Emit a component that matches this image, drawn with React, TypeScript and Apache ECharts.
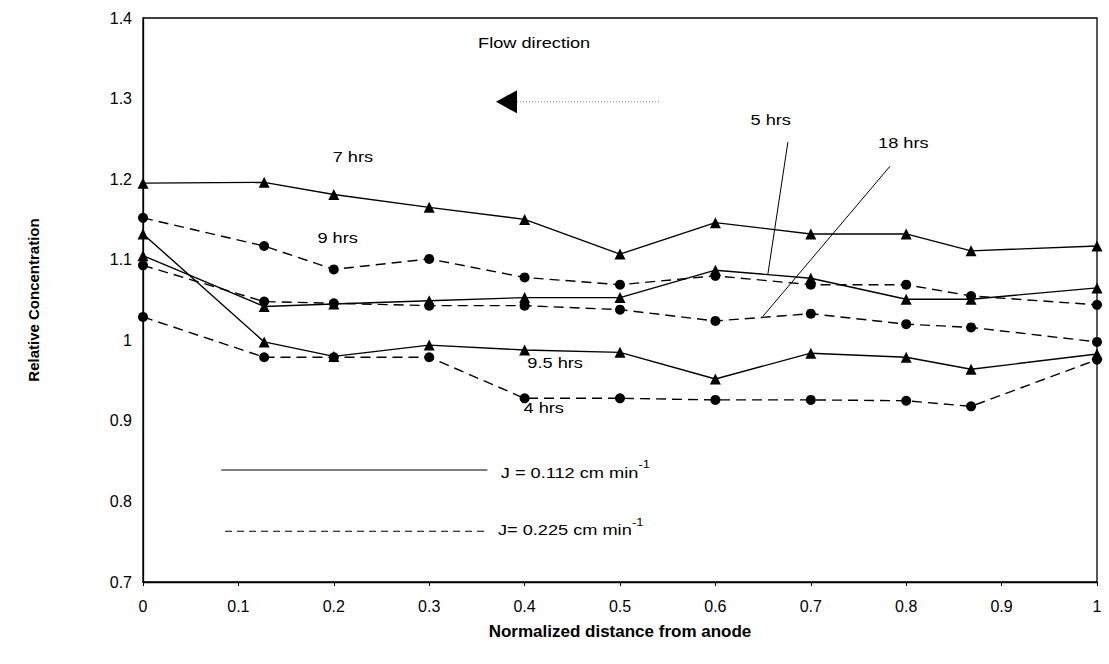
import { useEffect, useRef } from "react";
import * as echarts from "echarts";

// Normalized distance from anode (x positions of the sampling ports)
const xPositions = [0, 0.127, 0.2, 0.3, 0.4, 0.5, 0.6, 0.7, 0.8, 0.868, 1];

// J = 0.112 cm/min (solid, triangles)
const hrs7 = [1.195, 1.196, 1.181, 1.165, 1.15, 1.107, 1.146, 1.132, 1.132, 1.111, 1.117];
const hrs5 = [1.105, 1.042, 1.045, 1.049, 1.053, 1.053, 1.087, 1.077, 1.051, 1.051, 1.065];
const hrs9_5 = [1.132, 0.998, 0.98, 0.994, 0.988, 0.985, 0.952, 0.984, 0.979, 0.964, 0.983];

// J = 0.225 cm/min (dashed, circles)
const hrs9 = [1.152, 1.117, 1.088, 1.101, 1.078, 1.069, 1.08, 1.069, 1.069, 1.055, 1.044];
const hrs18 = [1.093, 1.048, 1.046, 1.043, 1.043, 1.038, 1.024, 1.033, 1.02, 1.016, 0.998];
const hrs4 = [1.029, 0.979, 0.979, 0.979, 0.928, 0.928, 0.926, 0.926, 0.925, 0.918, 0.976];

const seriesDefs = [
  { name: "7 hrs", values: hrs7, dashed: false },
  { name: "5 hrs", values: hrs5, dashed: false },
  { name: "9.5 hrs", values: hrs9_5, dashed: false },
  { name: "9 hrs", values: hrs9, dashed: true },
  { name: "18 hrs", values: hrs18, dashed: true },
  { name: "4 hrs", values: hrs4, dashed: true },
];

// Annotation labels, in data coordinates
const labelTexts = ["7 hrs", "9 hrs", "5 hrs", "18 hrs", "9.5 hrs", "4 hrs", "Flow direction"];
const labelX = [0.22, 0.204, 0.658, 0.797, 0.432, 0.42, 0.41];
const labelY = [1.2275, 1.127, 1.273, 1.245, 0.972, 0.916, 1.369];

// Leader lines (5 hrs, 18 hrs), data coordinates
const leaderFrom = [[0.676, 1.246], [0.783, 1.216]];
const leaderTo = [[0.655, 1.082], [0.65, 1.03]];

const FONT = "Liberation Sans, Arial, sans-serif";
const STRETCH = 1.3;

export default function App() {
  const ref = useRef<HTMLDivElement>(null);

  useEffect(() => {
    if (!ref.current) return;
    const chart = echarts.init(ref.current, undefined, { renderer: "svg" });

    const series = seriesDefs.map((s) => ({
      name: s.name,
      type: "line",
      data: xPositions.map((x, i) => [x, s.values[i]]),
      symbol: s.dashed ? "circle" : "triangle",
      symbolSize: s.dashed ? 10 : 11,
      showSymbol: true,
      lineStyle: { color: "#000", width: 1.4, type: s.dashed ? [10, 6] : "solid" },
      itemStyle: { color: "#000" },
      z: 3,
    }));

    chart.setOption({
      animation: false,
      backgroundColor: "#fff",
      grid: {
        left: 143,
        top: 18,
        right: 12,
        bottom: 82,
        show: true,
        borderColor: "#000",
        borderWidth: 1.3,
        backgroundColor: "transparent",
      },
      xAxis: {
        type: "value",
        min: 0,
        max: 1,
        interval: 0.1,
        name: "Normalized distance from anode",
        nameLocation: "middle",
        nameGap: 41,
        nameTextStyle: { fontFamily: FONT, fontWeight: "bold", fontSize: 17, color: "#000" },
        axisLine: { show: true, lineStyle: { color: "#000", width: 1.3 } },
        axisTick: { show: true, inside: false, length: 4, lineStyle: { color: "#000" } },
        axisLabel: { fontFamily: FONT, fontSize: 16, color: "#000", margin: 16 },
        splitLine: { show: false },
      },
      yAxis: {
        type: "value",
        min: 0.7,
        max: 1.4,
        interval: 0.1,
        name: "Relative Concentration",
        nameLocation: "middle",
        nameGap: 102,
        nameTextStyle: { fontFamily: FONT, fontWeight: "bold", fontSize: 15, color: "#000" },
        axisLine: { show: true, lineStyle: { color: "#000", width: 1.3 } },
        axisTick: { show: false },
        axisLabel: { fontFamily: FONT, fontSize: 16, color: "#000", margin: 11 },
        splitLine: { show: false },
      },
      series,
    });

    const px = (x: number, y: number) => chart.convertToPixel({ gridIndex: 0 }, [x, y]) as number[];

    const graphics: any[] = [];
    labelTexts.forEach((t, i) => {
      const p = px(labelX[i], labelY[i]);
      graphics.push({
        type: "text",
        x: p[0],
        y: p[1],
        scaleX: STRETCH,
        z: 10,
        style: { text: t, font: `14px ${FONT}`, fill: "#000", align: "center", verticalAlign: "middle" },
      });
    });
    leaderFrom.forEach((f, i) => {
      const a = px(f[0], f[1]);
      const b = px(leaderTo[i][0], leaderTo[i][1]);
      graphics.push({
        type: "line",
        z: 10,
        shape: { x1: a[0], y1: a[1], x2: b[0], y2: b[1] },
        style: { stroke: "#000", lineWidth: 1 },
      });
    });

    // Flow direction arrow
    const tip = px(0.37, 1.296);
    graphics.push({
      type: "polygon",
      z: 10,
      shape: { points: [[tip[0], tip[1]], [tip[0] + 21, tip[1] - 11.5], [tip[0] + 21, tip[1] + 11.5]] },
      style: { fill: "#000" },
    });
    const dEnd = px(0.542, 1.296);
    graphics.push({
      type: "line",
      z: 10,
      shape: { x1: tip[0] + 21, y1: tip[1], x2: dEnd[0], y2: dEnd[1] },
      style: { stroke: "#777", lineWidth: 1, lineDash: [1, 2] },
    });

    // In-plot legend
    const l1a = px(0.082, 0.839);
    const l1b = px(0.361, 0.839);
    graphics.push({
      type: "line",
      z: 10,
      shape: { x1: l1a[0], y1: l1a[1], x2: l1b[0], y2: l1b[1] },
      style: { stroke: "#000", lineWidth: 1.2 },
    });
    const t1 = px(0.375, 0.839);
    graphics.push({
      type: "text",
      x: t1[0],
      y: t1[1],
      scaleX: STRETCH,
      z: 10,
      style: {
        text: "{a|J = 0.112 cm min}{s|-1}",
        fill: "#000",
        align: "left",
        verticalAlign: "middle",
        rich: {
          a: { fontFamily: FONT, fontSize: 14, lineHeight: 20, verticalAlign: "bottom" },
          s: { fontFamily: FONT, fontSize: 10, lineHeight: 20, verticalAlign: "top" },
        },
      },
    });
    const l2a = px(0.086, 0.763);
    const l2b = px(0.361, 0.763);
    graphics.push({
      type: "line",
      z: 10,
      shape: { x1: l2a[0], y1: l2a[1], x2: l2b[0], y2: l2b[1] },
      style: { stroke: "#000", lineWidth: 1.2, lineDash: [7, 5] },
    });
    const t2 = px(0.372, 0.768);
    graphics.push({
      type: "text",
      x: t2[0],
      y: t2[1],
      scaleX: STRETCH,
      z: 10,
      style: {
        text: "{a|J= 0.225 cm min}{s|-1}",
        fill: "#000",
        align: "left",
        verticalAlign: "middle",
        rich: {
          a: { fontFamily: FONT, fontSize: 14, lineHeight: 20, verticalAlign: "bottom" },
          s: { fontFamily: FONT, fontSize: 10, lineHeight: 20, verticalAlign: "top" },
        },
      },
    });

    chart.setOption({ graphic: graphics });

    return () => chart.dispose();
  }, []);

  return (
    <div
      ref={ref}
      style={{ position: "fixed", left: 0, top: 0, width: 1109, height: 664, background: "#fff" }}
    />
  );
}
